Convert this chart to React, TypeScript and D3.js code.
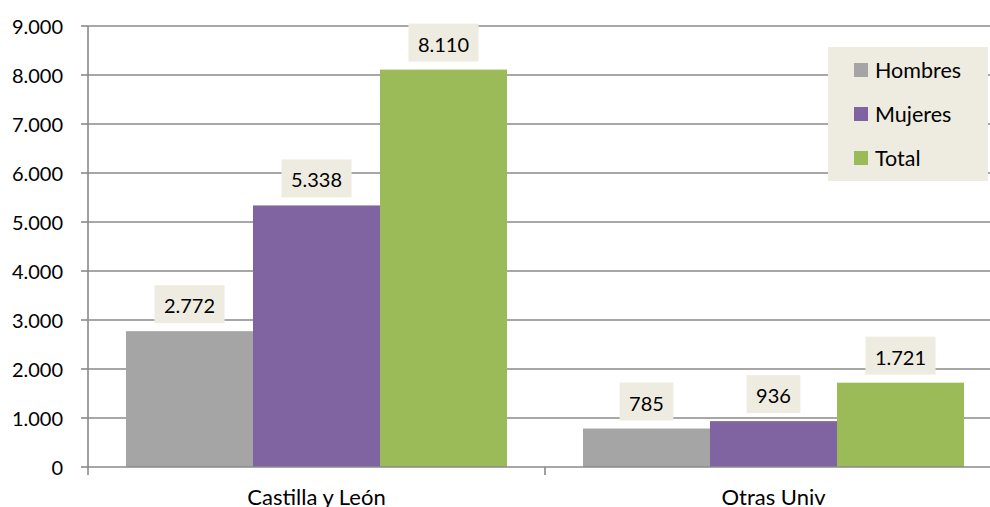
import React from "react";
import * as d3 from "d3";

const categories = ["Castilla y León", "Otras Univ"];
const seriesNames = ["Hombres", "Mujeres", "Total"];
const hombres = [2772, 785];
const mujeres = [5338, 936];
const total = [8110, 1721];
const yTicks = [0, 1000, 2000, 3000, 4000, 5000, 6000, 7000, 8000, 9000];
const colors = ["#A5A5A5", "#8064A2", "#9BBB59"];

const W = 990;
const H = 507;
const FONT = "Lato, 'Open Sans', sans-serif";
const FS = 20;

const locale = d3.formatLocale({ decimal: ",", thousands: ".", grouping: [3], currency: ["", "€"] });
const fmt = locale.format(",d");

let ctx: CanvasRenderingContext2D | null = null;
function measure(t: string): number {
  if (!ctx) ctx = document.createElement("canvas").getContext("2d");
  if (!ctx) return t.length * FS * 0.55;
  ctx.font = `${FS}px Lato`;
  return ctx.measureText(t).width;
}

export default function App() {
  const left = 88;
  const right = 1002;
  const top = 26;
  const bottom = 467;
  const x0 = d3.scaleBand<string>().domain(categories).range([left, right]).paddingInner(0).paddingOuter(0);
  const y = d3.scaleLinear().domain([0, 9000]).range([bottom, top]);
  const bw = x0.bandwidth();
  const groupW = bw * (381 / 457);
  const x1 = d3.scaleBand<string>().domain(seriesNames).range([0, groupW]).padding(0);
  const series = [hombres, mujeres, total];
  const grid = "#8a8a8a";

  return (
    <svg width={W} height={H} style={{ position: "absolute", left: 0, top: 0, background: "#fff" }} fontFamily={FONT}>
      {yTicks.map((t) => (
        <g key={t}>
          {t > 0 && <line x1={left} x2={right} y1={y(t)} y2={y(t)} stroke={grid} strokeWidth={1.6} />}
          <line x1={left - 7} x2={left} y1={y(t)} y2={y(t)} stroke={grid} strokeWidth={1.6} />
          <text x={63} y={y(t)} textAnchor="end" dominantBaseline="central" fontSize={FS} fill="#000">
            {fmt(t)}
          </text>
        </g>
      ))}
      {categories.map((c, ci) => {
        const gx = (x0(c) as number) + (bw - groupW) / 2;
        return (
          <g key={c}>
            {series.map((s, si) => {
              const bx = gx + (x1(seriesNames[si]) as number);
              const by = y(s[ci]);
              return (
                <rect key={si} x={bx} y={by} width={x1.bandwidth()} height={bottom - by} fill={colors[si]} />
              );
            })}
          </g>
        );
      })}
      {/* axes */}
      <line x1={left} x2={left} y1={top} y2={bottom + 8} stroke={grid} strokeWidth={1.6} />
      <line x1={left} x2={right} y1={bottom} y2={bottom} stroke={grid} strokeWidth={1.6} />
      {categories.map((c, ci) =>
        ci > 0 ? (
          <line key={c} x1={x0(c)} x2={x0(c)} y1={bottom} y2={bottom + 8} stroke={grid} strokeWidth={1.6} />
        ) : null
      )}
      {categories.map((c) => (
        <text key={c} x={(x0(c) as number) + bw / 2} y={505} textAnchor="middle" fontSize={22} fill="#000">
          {c}
        </text>
      ))}
      {/* data labels */}
      {categories.map((c, ci) => {
        const gx = (x0(c) as number) + (bw - groupW) / 2;
        return series.map((s, si) => {
          const cx = gx + (x1(seriesNames[si]) as number) + x1.bandwidth() / 2;
          const label = fmt(s[ci]);
          const w = measure(label) + 19;
          const h = 38;
          const by = y(s[ci]) - 8 - h;
          return (
            <g key={`${ci}-${si}`}>
              <rect x={cx - w / 2} y={by} width={w} height={h} fill="#EEECE1" />
              <text x={cx} y={by + h / 2 + 1} textAnchor="middle" dominantBaseline="central" fontSize={FS} fill="#000">
                {label}
              </text>
            </g>
          );
        });
      })}
      {/* legend */}
      <rect x={828} y={47} width={160} height={134} fill="#EEECE1" />
      {seriesNames.map((n, i) => {
        const cy = 70 + i * 44;
        return (
          <g key={n}>
            <rect x={854} y={cy - 7} width={14} height={14} fill={colors[i]} />
            <text x={875} y={cy} dominantBaseline="central" fontSize={21.5} fill="#000">
              {n}
            </text>
          </g>
        );
      })}
    </svg>
  );
}
